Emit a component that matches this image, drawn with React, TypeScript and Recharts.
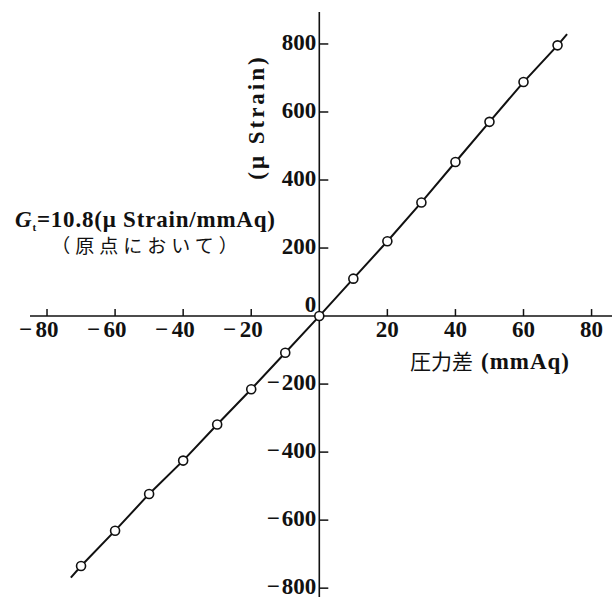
import React from 'react';
import { ScatterChart, Scatter, XAxis, YAxis, ReferenceLine, ReferenceDot } from 'recharts';

// ---- data ----
const pressureDiff = [-70, -60, -50, -40, -30, -20, -10, 0, 10, 20, 30, 40, 50, 60, 70];
const microStrain = [-735, -631, -523, -425, -319, -215, -108, 0, 110, 220, 334, 453, 571, 688, 796];
// drawn calibration line: its two free ends, joined through the measured points
const lineStart = { x: -73, y: -769 };
const lineEnd = { x: 72.8, y: 829 };
const xTickValues = [-80, -60, -40, -20, 20, 40, 60, 80];
const yTickValues = [800, 600, 400, 200, -200, -400, -600, -800];
const xTitleJa = '圧力差';
const xTitleUnit = '(mmAq)';
const yTitle = '(μ Strain)';
const noteLine1 = '=10.8(μ Strain/mmAq)';
const noteLine2 = '（原点において）';

const points = pressureDiff.map((x, i) => ({ x, y: microStrain[i] }));
const lineData = [lineStart, ...points, lineEnd];

const W = 615;
const H = 597;
const SERIF = '"Liberation Serif", "DejaVu Serif", serif';
const CJK = '"Noto Sans CJK JP", "Noto Sans CJK SC", sans-serif';
const INK = '#111';
const FS = 23;
const DIGIT = 11.5;

const xTickShape = (v: number) => (p: any) => {
  const { cx, cy } = p;
  const digits = String(Math.abs(v));
  return (
    <g>
      <line x1={cx} y1={cy} x2={cx} y2={cy - 7} stroke={INK} strokeWidth={1.5} />
      <text x={cx} y={cy + 21} textAnchor="middle" fontFamily={SERIF} fontWeight="bold" fontSize={FS} fill={INK}>
        {digits}
      </text>
      {v < 0 && (
        <text x={cx - 15} y={cy + 21} textAnchor="end" fontFamily={SERIF} fontWeight="bold" fontSize={FS} fill={INK}>
          −
        </text>
      )}
    </g>
  );
};

const yTickShape = (v: number) => (p: any) => {
  const { cx, cy } = p;
  const digits = String(Math.abs(v));
  return (
    <g>
      <line x1={cx} y1={cy} x2={cx + 9} y2={cy} stroke={INK} strokeWidth={1.5} />
      <text x={cx - 3} y={cy + 6} textAnchor="end" fontFamily={SERIF} fontWeight="bold" fontSize={FS} fill={INK}>
        {digits}
      </text>
      {v < 0 && (
        <text
          x={cx - 3 - digits.length * DIGIT - 2}
          y={cy + 6}
          textAnchor="end"
          fontFamily={SERIF}
          fontWeight="bold"
          fontSize={FS}
          fill={INK}
        >
          −
        </text>
      )}
    </g>
  );
};

const zeroShape = (p: any) => (
  <text x={p.cx - 3} y={p.cy - 4} textAnchor="end" fontFamily={SERIF} fontWeight="bold" fontSize={FS} fill={INK}>
    0
  </text>
);

const pointShape = (p: any) => (
  <circle cx={p.cx} cy={p.cy} r={4.5} fill="#fff" stroke={INK} strokeWidth={1.6} />
);

const noShape = () => <g />;

export default function App() {
  return (
    <div style={{ position: 'absolute', left: 0, top: 0, width: W, height: H, background: '#fff' }}>
      <ScatterChart width={W} height={H} margin={{ top: 12, right: 3, bottom: 0, left: 30 }}>
        <XAxis type="number" dataKey="x" domain={[-85, 86]} hide allowDataOverflow />
        <YAxis type="number" dataKey="y" domain={[-826, 894]} hide allowDataOverflow />
        <ReferenceLine y={0} stroke={INK} strokeWidth={1.6} />
        <ReferenceLine x={0} stroke={INK} strokeWidth={1.6} />
        {xTickValues.map((v) => (
          <ReferenceDot key={'xt' + v} x={v} y={0} r={0} shape={xTickShape(v)} />
        ))}
        {yTickValues.map((v) => (
          <ReferenceDot key={'yt' + v} x={0} y={v} r={0} shape={yTickShape(v)} />
        ))}
        <ReferenceDot x={0} y={0} r={0} shape={zeroShape} />
        <Scatter data={lineData} line={{ stroke: INK, strokeWidth: 2 }} shape={noShape} isAnimationActive={false} />
        <Scatter data={points} shape={pointShape} isAnimationActive={false} />
      </ScatterChart>
      <svg width={W} height={H} style={{ position: 'absolute', left: 0, top: 0, pointerEvents: 'none' }}>
        <text x={15} y={227} fontFamily={SERIF} fontWeight="bold" fontSize={FS} fill={INK} letterSpacing={0.8}>
          <tspan fontStyle="italic">G</tspan>
          <tspan fontSize={11} dy={4}>t</tspan>
          <tspan dy={-4}>{noteLine1}</tspan>
        </text>
        <text x={147} y={253} textAnchor="middle" fontFamily={CJK} fontSize={19} fill={INK} letterSpacing={5}>
          {noteLine2}
        </text>
        <text
          x={256}
          y={117}
          transform="rotate(-90 256 117)"
          textAnchor="middle"
          dominantBaseline="central"
          fontFamily={SERIF}
          fontWeight="bold"
          fontSize={FS}
          letterSpacing={3}
          fill={INK}
        >
          {yTitle}
        </text>
        <text x={490} y={369} textAnchor="middle" fill={INK}>
          <tspan fontFamily={CJK} fontSize={21}>{xTitleJa}</tspan>
          <tspan fontFamily={SERIF} fontWeight="bold" fontSize={FS} dx={8} letterSpacing={1}>
            {xTitleUnit}
          </tspan>
        </text>
      </svg>
    </div>
  );
}
